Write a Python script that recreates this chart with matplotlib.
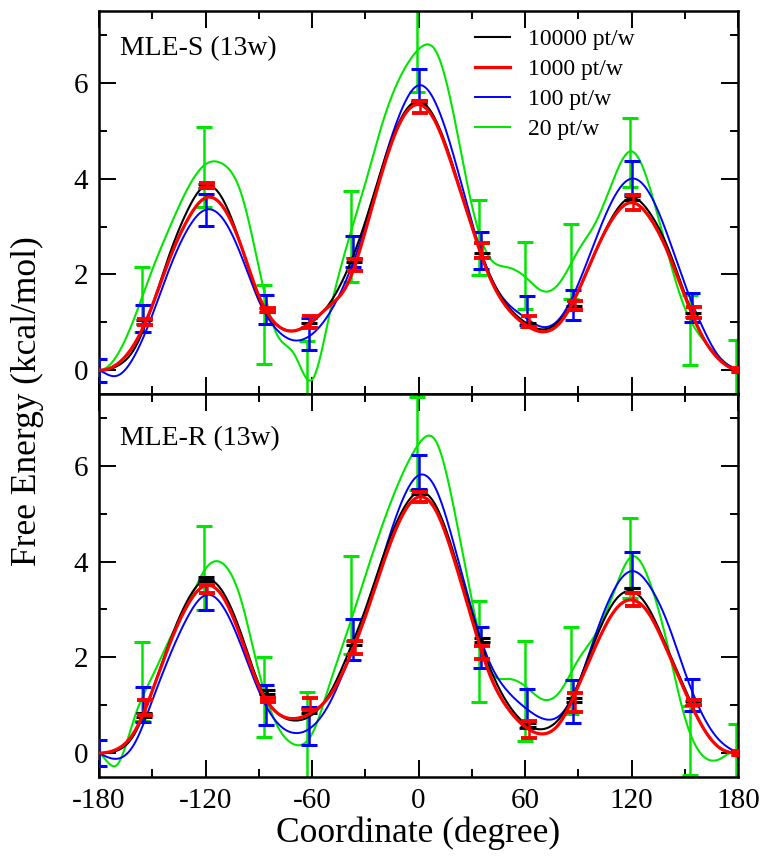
import numpy as np
import matplotlib
matplotlib.use('Agg')
import matplotlib.pyplot as plt
from matplotlib.ticker import MultipleLocator

plt.rcParams['font.family'] = ['Liberation Serif', 'DejaVu Serif']
plt.rcParams['axes.unicode_minus'] = False

nan = np.nan

# curve values read every 10 degrees
coord = list(range(-180, 181, 10))

top_black = [0.0, 0.08, 0.45, 1.35, 2.45, 3.35, 3.85, 3.55, 2.6, 1.5, 0.95, 0.82, 1.0,
             1.4, 2.1, 3.1, 4.3, 5.25, 5.62, 5.2, 4.2, 3.0, 2.0, 1.35, 1.0, 0.85, 1.05,
             1.65, 2.5, 3.25, 3.6, 3.3, 2.6, 1.6, 0.7, 0.2, 0.0]
top_red = [0.0, 0.12, 0.55, 1.35, 2.35, 3.15, 3.6, 3.4, 2.6, 1.55, 0.95, 0.82, 1.02,
           1.35, 1.8, 2.9, 4.2, 5.2, 5.55, 5.15, 4.15, 3.0, 1.95, 1.3, 0.95, 0.8, 1.0,
           1.65, 2.5, 3.2, 3.5, 3.2, 2.5, 1.55, 0.7, 0.2, 0.0]
top_blue = [0.0, -0.12, 0.3, 1.15, 2.15, 2.95, 3.35, 3.15, 2.4, 1.45, 0.85, 0.62, 0.75,
            1.2, 1.95, 3.0, 4.3, 5.4, 5.95, 5.55, 4.45, 3.1, 2.0, 1.4, 1.1, 0.9, 1.1,
            1.8, 2.75, 3.6, 4.0, 3.7, 2.85, 1.8, 0.9, 0.25, 0.0]
top_green = [0.0, 0.3, 1.1, 2.1, 3.0, 3.8, 4.3, 4.3, 3.7, 2.15, 0.76, 0.33, -0.2,
             1.2, 2.65, 3.9, 5.2, 6.15, 6.7, 6.65, 5.3, 3.45, 2.35, 2.15, 1.95, 1.65, 1.85,
             2.5, 3.1, 4.0, 4.57, 3.85, 2.5, 1.3, 0.65, 0.25, 0.0]

bot_black = [0.0, 0.05, 0.4, 1.3, 2.35, 3.2, 3.62, 3.35, 2.5, 1.45, 0.85, 0.68, 0.8,
             1.25, 2.05, 3.0, 4.1, 5.0, 5.45, 5.15, 4.15, 2.9, 1.8, 1.05, 0.62, 0.5, 0.75,
             1.45, 2.4, 3.15, 3.38, 3.0, 2.2, 1.35, 0.55, 0.1, 0.0]
bot_red = [0.0, 0.08, 0.45, 1.3, 2.3, 3.1, 3.5, 3.25, 2.4, 1.4, 0.85, 0.72, 0.85,
           1.2, 1.9, 2.85, 3.95, 4.9, 5.35, 5.05, 4.05, 2.8, 1.65, 0.95, 0.55, 0.4, 0.65,
           1.4, 2.25, 2.95, 3.2, 2.9, 2.15, 1.3, 0.55, 0.1, 0.0]
bot_blue = [0.0, -0.12, 0.2, 1.1, 2.05, 2.85, 3.3, 3.05, 2.25, 1.3, 0.65, 0.42, 0.55,
            1.05, 1.9, 2.9, 4.1, 5.2, 5.8, 5.5, 4.35, 3.0, 1.9, 1.3, 0.95, 0.72, 0.8,
            1.45, 2.5, 3.4, 3.8, 3.5, 2.75, 1.7, 0.8, 0.25, 0.0]
bot_green = [0.0, -0.25, 0.75, 1.6, 2.4, 3.1, 3.85, 3.95, 3.2, 1.7, 0.6, 0.18, 0.4,
             1.45, 2.55, 3.7, 4.8, 5.75, 6.45, 6.5, 5.1, 3.2, 1.75, 1.55, 1.4, 1.12, 1.3,
             1.95, 2.5, 3.35, 4.1, 3.6, 2.3, 0.75, -0.05, -0.12, 0.0]

# error bars at the 13 windows
windows = [-180, -155, -120, -86, -62, -37, 0, 35, 61, 87, 120, 154, 180]

top_black_y = [nan, 1.0, 3.85, 1.25, 0.95, 2.3, 5.6, 2.4, 0.95, 1.3, 3.6, 1.15, 0.0]
top_black_e = [nan, .04, .04, .04, .04, .04, .04, .04, .04, .04, .04, .04, .04]
top_red_y = [nan, 1.0, 3.85, 1.25, 1.0, 2.2, 5.5, 2.5, 1.02, 1.35, 3.5, 1.2, 0.0]
top_red_e = [nan, .06, .05, .04, .13, .13, .12, .15, .12, .1, .15, .12, .04]
top_blue_y = [0.0, 1.08, 3.35, 1.27, 0.75, 2.48, 5.95, 2.5, 1.25, 1.36, 4.02, 1.3, nan]
top_blue_e = [.24, .28, .33, .3, .33, .33, .35, .39, .3, .32, .34, .3, nan]
top_green_y = [nan, 1.47, 4.24, 0.95, 0.0, 2.8, 6.82, 2.77, 1.98, 2.27, 4.55, 0.83, 0.0]
top_green_e = [nan, .68, .84, .82, .6, .95, 1.0, .79, .7, .78, .72, .73, .62]

bot_black_y = [nan, 0.8, 3.64, 1.27, 0.87, 2.3, 5.45, 2.36, 0.59, 1.1, 3.4, 1.04, 0.0]
bot_black_e = [nan, .04, .04, .04, .04, .04, .04, .04, .04, .04, .04, .04, .04]
bot_red_y = [nan, 0.95, 3.43, 1.1, 1.02, 2.2, 5.35, 2.1, 0.49, 1.05, 3.21, 1.05, 0.0]
bot_red_e = [nan, .16, .09, .04, .13, .14, .1, .14, .17, .2, .14, .05, .04]
bot_blue_y = [0.0, 1.02, 3.3, 1.0, 0.56, 2.38, 5.87, 2.2, 0.93, 1.08, 3.83, 1.21, nan]
bot_blue_e = [.28, .37, .32, .42, .4, .43, .35, .43, .41, .45, .38, .34, nan]
bot_green_y = [nan, 1.5, 3.87, 1.17, 0.3, 3.09, 6.47, 2.12, 1.3, 1.73, 4.08, 0.26, 0.0]
bot_green_e = [nan, .83, .88, .83, .97, 1.03, .97, 1.06, 1.05, .91, .84, .72, .61]

labels = ['10000 pt/w', '1000 pt/w', '100 pt/w', '20 pt/w']
colors = ['black', '#ff0000', '#0000ff', '#00e600']


def smooth(xs, ys, num=721):
    # periodic cubic spline through the read values
    xs = np.asarray(xs, float)
    ys = np.asarray(ys, float)
    h = xs[1] - xs[0]
    y = ys[:-1]
    n = len(y)
    A = np.zeros((n, n))
    for i in range(n):
        A[i, i] = 4
        A[i, (i - 1) % n] = 1
        A[i, (i + 1) % n] = 1
    rhs = 6 / h**2 * (np.roll(y, 1) - 2 * y + np.roll(y, -1))
    M = np.linalg.solve(A, rhs)
    M = np.append(M, M[0])
    xf = np.linspace(xs[0], xs[-1], num)
    i = np.clip(((xf - xs[0]) // h).astype(int), 0, n - 1)
    a = (xs[i + 1] - xf) / h
    b = (xf - xs[i]) / h
    yf = a * ys[i] + b * ys[i + 1] + ((a**3 - a) * M[i] + (b**3 - b) * M[i + 1]) * h**2 / 6
    return xf, yf


fig = plt.figure(figsize=(7.74, 8.58), dpi=100)
ax1 = fig.add_axes([0.128, 0.5408, 0.8255, 0.4462])
ax2 = fig.add_axes([0.128, 0.0944, 0.8255, 0.4464])

panels = [
    (ax1, [top_black, top_red, top_blue, top_green],
     [(top_black_y, top_black_e), (top_red_y, top_red_e), (top_blue_y, top_blue_e), (top_green_y, top_green_e)],
     'MLE-S (13w)', 0.885),
    (ax2, [bot_black, bot_red, bot_blue, bot_green],
     [(bot_black_y, bot_black_e), (bot_red_y, bot_red_e), (bot_blue_y, bot_blue_e), (bot_green_y, bot_green_e)],
     'MLE-R (13w)', 0.867),
]

lws = [1.5, 2.3, 1.4, 1.5]
zorders = [4, 5, 3, 2]
offsets = [0.5, 1.0, 0.0, -1.0]

for ax, curves, bars, name, ty in panels:
    for k in range(4):
        xf, yf = smooth(coord, curves[k])
        ax.plot(xf, yf, color=colors[k], lw=lws[k], zorder=zorders[k], label=labels[k])
        ey, ee = bars[k]
        ax.errorbar(np.array(windows) + offsets[k], ey, yerr=ee, fmt='none', ecolor=colors[k],
                    elinewidth=1.8, capsize=6, capthick=2.2 if k != 1 else 2.8,
                    zorder=zorders[k])
    ax.set_xlim(-180, 180)
    ax.set_ylim(-0.5, 7.5)
    ax.xaxis.set_major_locator(MultipleLocator(60))
    ax.xaxis.set_minor_locator(MultipleLocator(30))
    ax.yaxis.set_major_locator(MultipleLocator(2))
    ax.yaxis.set_minor_locator(MultipleLocator(1))
    ax.tick_params(which='both', direction='in', top=True, right=True, width=1.4, labelsize=21, pad=8)
    ax.tick_params(which='major', length=12)
    ax.tick_params(which='minor', length=6)
    for s in ax.spines.values():
        s.set_linewidth(1.8)
    ax.text(0.033, ty, name, transform=ax.transAxes, fontsize=20, va='baseline', ha='left')

ax1.tick_params(labelbottom=False)
ax1.legend(loc='upper left', bbox_to_anchor=(0.563, 0.997), frameon=False, fontsize=17,
           handlelength=1.45, handletextpad=0.8, labelspacing=0.36, borderpad=0.2)

fig.text(0.5407, 0.0186, 'Coordinate (degree)', fontsize=25.5, ha='center', va='baseline')
fig.text(0.0355, 0.533, 'Free Energy (kcal/mol)', rotation=90, fontsize=25.5, ha='center', va='center')

fig.savefig('out.png', dpi=100)
